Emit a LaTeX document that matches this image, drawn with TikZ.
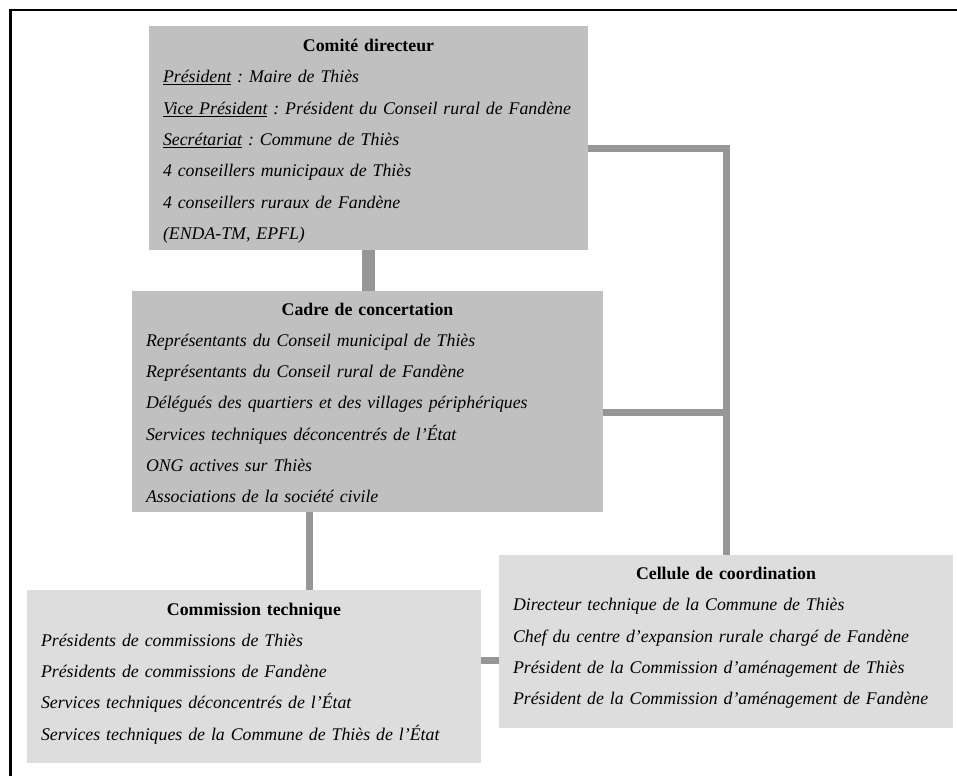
\documentclass[tikz,border=0pt]{standalone}
\usepackage{fontspec}
\setmainfont{Liberation Serif}
\definecolor{panelDark}{HTML}{C0C0C0}
\definecolor{panelLight}{HTML}{DDDDDD}
\definecolor{linkGray}{HTML}{969696}
\begin{document}
\frenchspacing
\begin{tikzpicture}[x=1pt,y=-1pt,
  panel/.style={draw=none, inner sep=0pt, outer sep=0pt},
  darkpanel/.style={panel, fill=panelDark},
  lightpanel/.style={panel, fill=panelLight},
  paneltext/.style={anchor=base, inner sep=0pt, outer sep=0pt, align=left,
    text width=#1, font=\fontsize{17.8}{31.3}\selectfont\frenchspacing},
  link/.style={draw=linkGray, line width=7pt},
  frameline/.style={draw=black, line width=2.5pt}]

\useasboundingbox (0,0) rectangle (957,776);

% outer frame (only its top and left sides fall inside the page)
\draw[frameline] (957,10) -- (10.5,10) -- (10.5,776);

% panels
\node[darkpanel, minimum width=439pt, minimum height=224pt] (comite) at (368.5,138) {};
\node[darkpanel, minimum width=471pt, minimum height=221pt] (cadre) at (367.5,401.5) {};
\node[lightpanel, minimum width=454pt, minimum height=173pt] (commission) at (254,676.5) {};
\node[lightpanel, minimum width=454pt, minimum height=173pt] (cellule) at (726,641.5) {};

% connectors
\draw[link, line width=13pt] (comite.south) -- (comite.south |- cadre.north);
\draw[link] ([xshift=-58.5pt]cadre.south) -- ([xshift=-58.5pt]cadre.south |- commission.north);
\draw[link] ([yshift=-10.5pt]comite.east) -| (cellule.north);
\draw[link] ([yshift=-10.5pt]cadre.east) -- ([yshift=-10.5pt]cadre.east -| cellule.north);
\draw[link] ([yshift=16.5pt]commission.east) -- ([yshift=16.5pt]commission.east -| cellule.west);

% panel texts
\node[paneltext=411pt] (comite-txt) at ([yshift=-25.5pt]comite.north) {%
  {\centering\bfseries Comité directeur\par}
  \itshape
  \underline{Président} : Maire de Thiès\par
  \underline{Vice Président} : Président du Conseil rural de Fandène\par
  \underline{Secrétariat} : Commune de Thiès\par
  4 conseillers municipaux de Thiès\par
  4 conseillers ruraux de Fandène\par
  (ENDA-TM, EPFL)};

\node[paneltext=443pt] (cadre-txt) at ([yshift=-24pt]cadre.north) {%
  {\centering\bfseries Cadre de concertation\par}
  \itshape
  Représentants du Conseil municipal de Thiès\par
  Représentants du Conseil rural de Fandène\par
  Délégués des quartiers et des villages périphériques\par
  Services techniques déconcentrés de l’État\par
  ONG actives sur Thiès\par
  Associations de la société civile};

\node[paneltext=426pt] (commission-txt) at ([yshift=-25pt]commission.north) {%
  {\centering\bfseries Commission technique\par}
  \itshape
  Présidents de commissions de Thiès\par
  Présidents de commissions de Fandène\par
  Services techniques déconcentrés de l’État\par
  Services techniques de la Commune de Thiès de l’État};

\node[paneltext=426pt] (cellule-txt) at ([yshift=-24.5pt]cellule.north) {%
  {\centering\bfseries Cellule de coordination\par}
  \itshape
  Directeur technique de la Commune de Thiès\par
  Chef du centre d’expansion rurale chargé de Fandène\par
  Président de la Commission d’aménagement de Thiès\par
  Président de la Commission d’aménagement de Fandène};
\end{tikzpicture}
\end{document}
